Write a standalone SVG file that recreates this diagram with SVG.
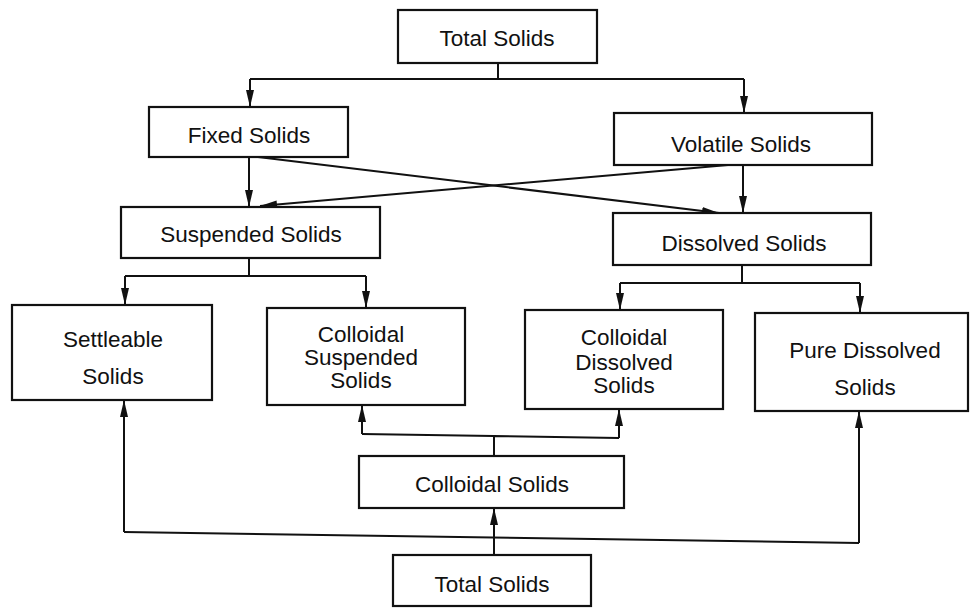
<svg xmlns="http://www.w3.org/2000/svg" width="971" height="608" viewBox="0 0 971 608">
  <style>
    .box { fill: #fff; stroke: #111; stroke-width: 2.2; }
    .lbl { font-family: "Liberation Sans", Arial, sans-serif; font-size: 22.5px; fill: #111; text-anchor: middle; }
    .wire { fill: none; stroke: #111; stroke-width: 2; }
  </style>
  <defs>
    <marker id="arrow" markerUnits="userSpaceOnUse" markerWidth="17" markerHeight="10" viewBox="0 0 17 10" refX="17" refY="5" orient="auto">
      <path d="M0,1 L17,5 L0,9 Z" fill="#111"/>
    </marker>
  </defs>
  <rect width="971" height="608" fill="#fff"/>

  <!-- connectors -->
  <g id="connectors">
    <!-- Total Solids split into fixed / volatile -->
    <path class="wire" d="M498,63 V79"/>
    <path class="wire" d="M250,79 H744"/>
    <path class="wire" d="M250,79 V107" marker-end="url(#arrow)"/>
    <path class="wire" d="M744,79 V113" marker-end="url(#arrow)"/>
    <!-- fixed / volatile to suspended / dissolved -->
    <path class="wire" d="M249,157 V207" marker-end="url(#arrow)"/>
    <path class="wire" d="M743,165 V213" marker-end="url(#arrow)"/>
    <path class="wire" d="M258,157 L719,213" marker-end="url(#arrow)"/>
    <path class="wire" d="M728,165 L260,206" marker-end="url(#arrow)"/>
    <!-- suspended split -->
    <path class="wire" d="M249,258 V276 M125,276 H366"/>
    <path class="wire" d="M125,276 V305" marker-end="url(#arrow)"/>
    <path class="wire" d="M366,276 V308" marker-end="url(#arrow)"/>
    <!-- dissolved split -->
    <path class="wire" d="M742,265 V283 M620,283 H860"/>
    <path class="wire" d="M620,283 V310" marker-end="url(#arrow)"/>
    <path class="wire" d="M860,283 V313" marker-end="url(#arrow)"/>
    <!-- colloidal solids up to the two colloidal fractions -->
    <path class="wire" d="M494,456 V436 M362,434 L619,438"/>
    <path class="wire" d="M362,434 V405" marker-end="url(#arrow)"/>
    <path class="wire" d="M619,438 V409" marker-end="url(#arrow)"/>
    <!-- bottom total solids -->
    <path class="wire" d="M124,532 L859,543"/>
    <path class="wire" d="M124,532 V400" marker-end="url(#arrow)"/>
    <path class="wire" d="M859,543 V411" marker-end="url(#arrow)"/>
    <path class="wire" d="M494,555 V508" marker-end="url(#arrow)"/>
  </g>

  <g id="total-top">
    <rect class="box" x="398" y="10" width="199" height="53"/>
    <text class="lbl" x="497" y="46">Total Solids</text>
  </g>
  <g id="fixed">
    <rect class="box" x="149" y="107" width="199" height="50"/>
    <text class="lbl" x="249" y="143">Fixed Solids</text>
  </g>
  <g id="volatile">
    <rect class="box" x="614" y="113" width="258" height="52"/>
    <text class="lbl" x="741" y="152">Volatile Solids</text>
  </g>
  <g id="suspended">
    <rect class="box" x="121" y="207" width="259" height="51"/>
    <text class="lbl" x="251" y="242">Suspended Solids</text>
  </g>
  <g id="dissolved">
    <rect class="box" x="613" y="213" width="258" height="52"/>
    <text class="lbl" x="744" y="251">Dissolved Solids</text>
  </g>
  <g id="settleable">
    <rect class="box" x="12" y="305" width="200" height="95"/>
    <text class="lbl" x="113" y="347">Settleable</text>
    <text class="lbl" x="113" y="384">Solids</text>
  </g>
  <g id="colloidal-suspended">
    <rect class="box" x="267" y="308" width="198" height="97"/>
    <text class="lbl" x="361" y="342">Colloidal</text>
    <text class="lbl" x="361" y="365">Suspended</text>
    <text class="lbl" x="361" y="388">Solids</text>
  </g>
  <g id="colloidal-dissolved">
    <rect class="box" x="525" y="310" width="198" height="99"/>
    <text class="lbl" x="624" y="345">Colloidal</text>
    <text class="lbl" x="624" y="370">Dissolved</text>
    <text class="lbl" x="624" y="393">Solids</text>
  </g>
  <g id="pure-dissolved">
    <rect class="box" x="755" y="313" width="213" height="98"/>
    <text class="lbl" x="865" y="358">Pure Dissolved</text>
    <text class="lbl" x="865" y="395">Solids</text>
  </g>
  <g id="colloidal">
    <rect class="box" x="359" y="456" width="265" height="52"/>
    <text class="lbl" x="492" y="492">Colloidal Solids</text>
  </g>
  <g id="total-bottom">
    <rect class="box" x="393" y="555" width="198" height="51"/>
    <text class="lbl" x="492" y="592">Total Solids</text>
  </g>
</svg>
